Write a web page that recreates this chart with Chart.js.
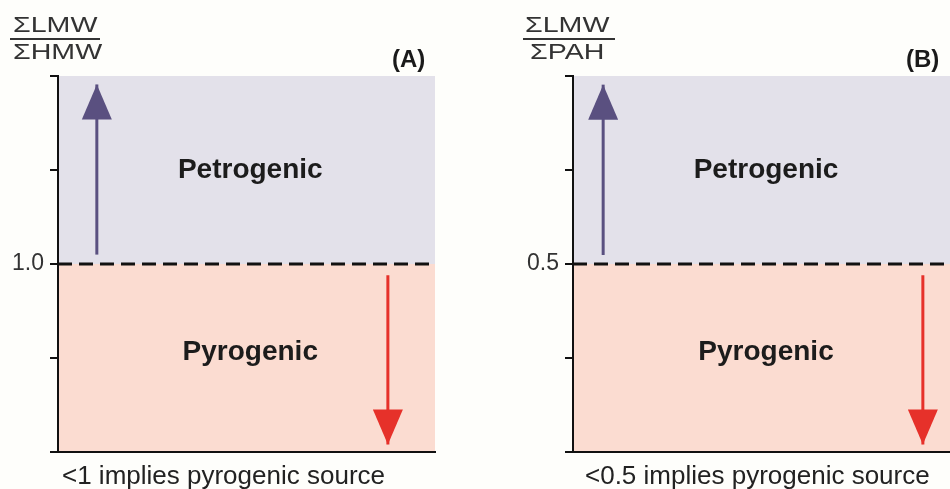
<!DOCTYPE html>
<html>
<head>
<meta charset="utf-8">
<script src="https://cdn.jsdelivr.net/npm/chart.js@4/dist/chart.umd.min.js"></script>
<style>
  html, body { margin: 0; padding: 0; background: #fefefb; width: 950px; height: 489px; overflow: hidden; }
  .panel { position: absolute; top: 0; width: 475px; height: 489px; }
  canvas { position: absolute; left: 0; top: 0; }
  .txt { position: absolute; white-space: nowrap; font-family: "Liberation Sans", Arial, sans-serif; color: #222; }
  .frac { font-size: 22px; line-height: 22px; transform-origin: 0 0; transform: scaleX(1.3); color: #333; }
  .bar { position: absolute; height: 2px; background: #333; }
  .tag { font-size: 24px; line-height: 24px; font-weight: bold; color: #1a1a1a; }
  .cap { font-size: 26px; line-height: 26px; color: #222; }
</style>
</head>
<body>
<div id="pA" class="panel" style="left:0">
  <canvas id="cA" width="475" height="489"></canvas>
  <div class="txt frac" style="left:13px; top:14px">ΣLMW</div>
  <div class="bar" style="left:10px; top:38px; width:90px"></div>
  <div class="txt frac" style="left:13px; top:41px">ΣHMW</div>
  <div class="txt tag" style="left:392px; top:47px">(A)</div>
  <div class="txt cap" style="left:62px; top:462px">&lt;1 implies pyrogenic source</div>
</div>
<div id="pB" class="panel" style="left:475px">
  <canvas id="cB" width="475" height="489"></canvas>
  <div class="txt frac" style="left:50px; top:14px">ΣLMW</div>
  <div class="bar" style="left:48px; top:38px; width:92px"></div>
  <div class="txt frac" style="left:55px; top:41px">ΣPAH</div>
  <div class="txt tag" style="left:431px; top:47px">(B)</div>
  <div class="txt cap" style="left:110px; top:462px">&lt;0.5 implies pyrogenic source</div>
</div>
<script>
// ---- data ----
const canvasIds = ['cA', 'cB'];
const thresholds = [1.0, 0.5];
const yMax = [2.0, 1.0];
const yStep = [0.5, 0.25];
const upArrowX = [0.103, 0.08];
const upArrowFrom = [1.05, 0.524];
const upArrowTo = [1.955, 0.977];
const downArrowX = [0.875, 0.928];
const downArrowFrom = [0.94, 0.47];
const downArrowTo = [0.04, 0.02];
const regionLabels = ['Petrogenic', 'Pyrogenic'];
const upperLabelValue = [1.5, 0.75];
const lowerLabelValue = [0.53, 0.265];
const labelX = [0.51, 0.512];
const axisWidths = [58, 98];
const rightPads = [40, 0];

// ---- styles ----
const upperColor = '#e3e1ea';
const lowerColor = '#fbdcd1';
const upColor = '#5a5080';
const downColor = '#e6312a';

const regionPlugin = {
  id: 'regions',
  beforeDraw(chart, args, opts) {
    const {ctx, chartArea: a, scales: {y}} = chart;
    const ty = y.getPixelForValue(opts.threshold);
    ctx.save();
    ctx.fillStyle = upperColor;
    ctx.fillRect(a.left, a.top, a.right - a.left, ty - a.top);
    ctx.fillStyle = lowerColor;
    ctx.fillRect(a.left, ty, a.right - a.left, a.bottom - ty);
    ctx.restore();
  },
  afterDatasetsDraw(chart, args, opts) {
    const {ctx, scales: {x, y}} = chart;
    // arrow heads
    chart.data.datasets.forEach((ds, i) => {
      if (!ds.arrow) return;
      const meta = chart.getDatasetMeta(i);
      const p0 = meta.data[0], p1 = meta.data[meta.data.length - 1];
      const dir = Math.sign(p1.y - p0.y);
      const len = 35, half = 15;
      ctx.save();
      ctx.fillStyle = ds.borderColor;
      ctx.beginPath();
      ctx.moveTo(p1.x, p1.y);
      ctx.lineTo(p1.x - half, p1.y - dir * len);
      ctx.lineTo(p1.x + half, p1.y - dir * len);
      ctx.closePath();
      ctx.fill();
      ctx.restore();
    });
    // region labels
    ctx.save();
    ctx.font = 'bold 28px "Liberation Sans", Arial, sans-serif';
    ctx.fillStyle = '#1c1c1c';
    ctx.textAlign = 'center';
    ctx.textBaseline = 'middle';
    ctx.fillText(regionLabels[0], x.getPixelForValue(opts.labelX), y.getPixelForValue(opts.upper));
    ctx.fillText(regionLabels[1], x.getPixelForValue(opts.labelX), y.getPixelForValue(opts.lower));
    ctx.restore();
  }
};

canvasIds.forEach((id, i) => {
  const thr = thresholds[i];
  new Chart(document.getElementById(id), {
    type: 'line',
    data: {
      datasets: [
        {
          data: [{x: 0, y: thr}, {x: 1, y: thr}],
          borderColor: '#111', borderWidth: 3, borderDash: [14, 7],
          pointRadius: 0
        },
        {
          arrow: true,
          data: [{x: upArrowX[i], y: upArrowFrom[i]}, {x: upArrowX[i], y: upArrowTo[i]}],
          borderColor: upColor, borderWidth: 3, pointRadius: 0
        },
        {
          arrow: true,
          data: [{x: downArrowX[i], y: downArrowFrom[i]}, {x: downArrowX[i], y: downArrowTo[i]}],
          borderColor: downColor, borderWidth: 3, pointRadius: 0
        }
      ]
    },
    options: {
      responsive: false,
      animation: false,
      devicePixelRatio: 1,
      layout: { padding: { top: 76, right: rightPads[i], bottom: 37, left: 0 } },
      plugins: {
        legend: { display: false },
        tooltip: { enabled: false },
        regions: { threshold: thr, upper: upperLabelValue[i], lower: lowerLabelValue[i], labelX: labelX[i] }
      },
      scales: {
        x: {
          type: 'linear', min: 0, max: 1,
          ticks: { display: false },
          grid: { display: false },
          border: { display: true, color: '#111', width: 2 },
          afterFit(s) { s.height = 0; }
        },
        y: {
          type: 'linear', min: 0, max: yMax[i],
          ticks: {
            stepSize: yStep[i],
            padding: 6,
            color: '#333',
            font: { family: '"Liberation Sans", Arial, sans-serif', size: 23 },
            callback: (v) => (Math.abs(v - thr) < 1e-9 ? v.toFixed(1) : '')
          },
          grid: { display: true, drawOnChartArea: false, drawTicks: true, tickLength: 8, color: '#111', lineWidth: 2 },
          border: { display: true, color: '#111', width: 2 },
          afterFit(s) { s.width = axisWidths[i]; }
        }
      }
    },
    plugins: [regionPlugin]
  });
});
</script>
</body>
</html>
